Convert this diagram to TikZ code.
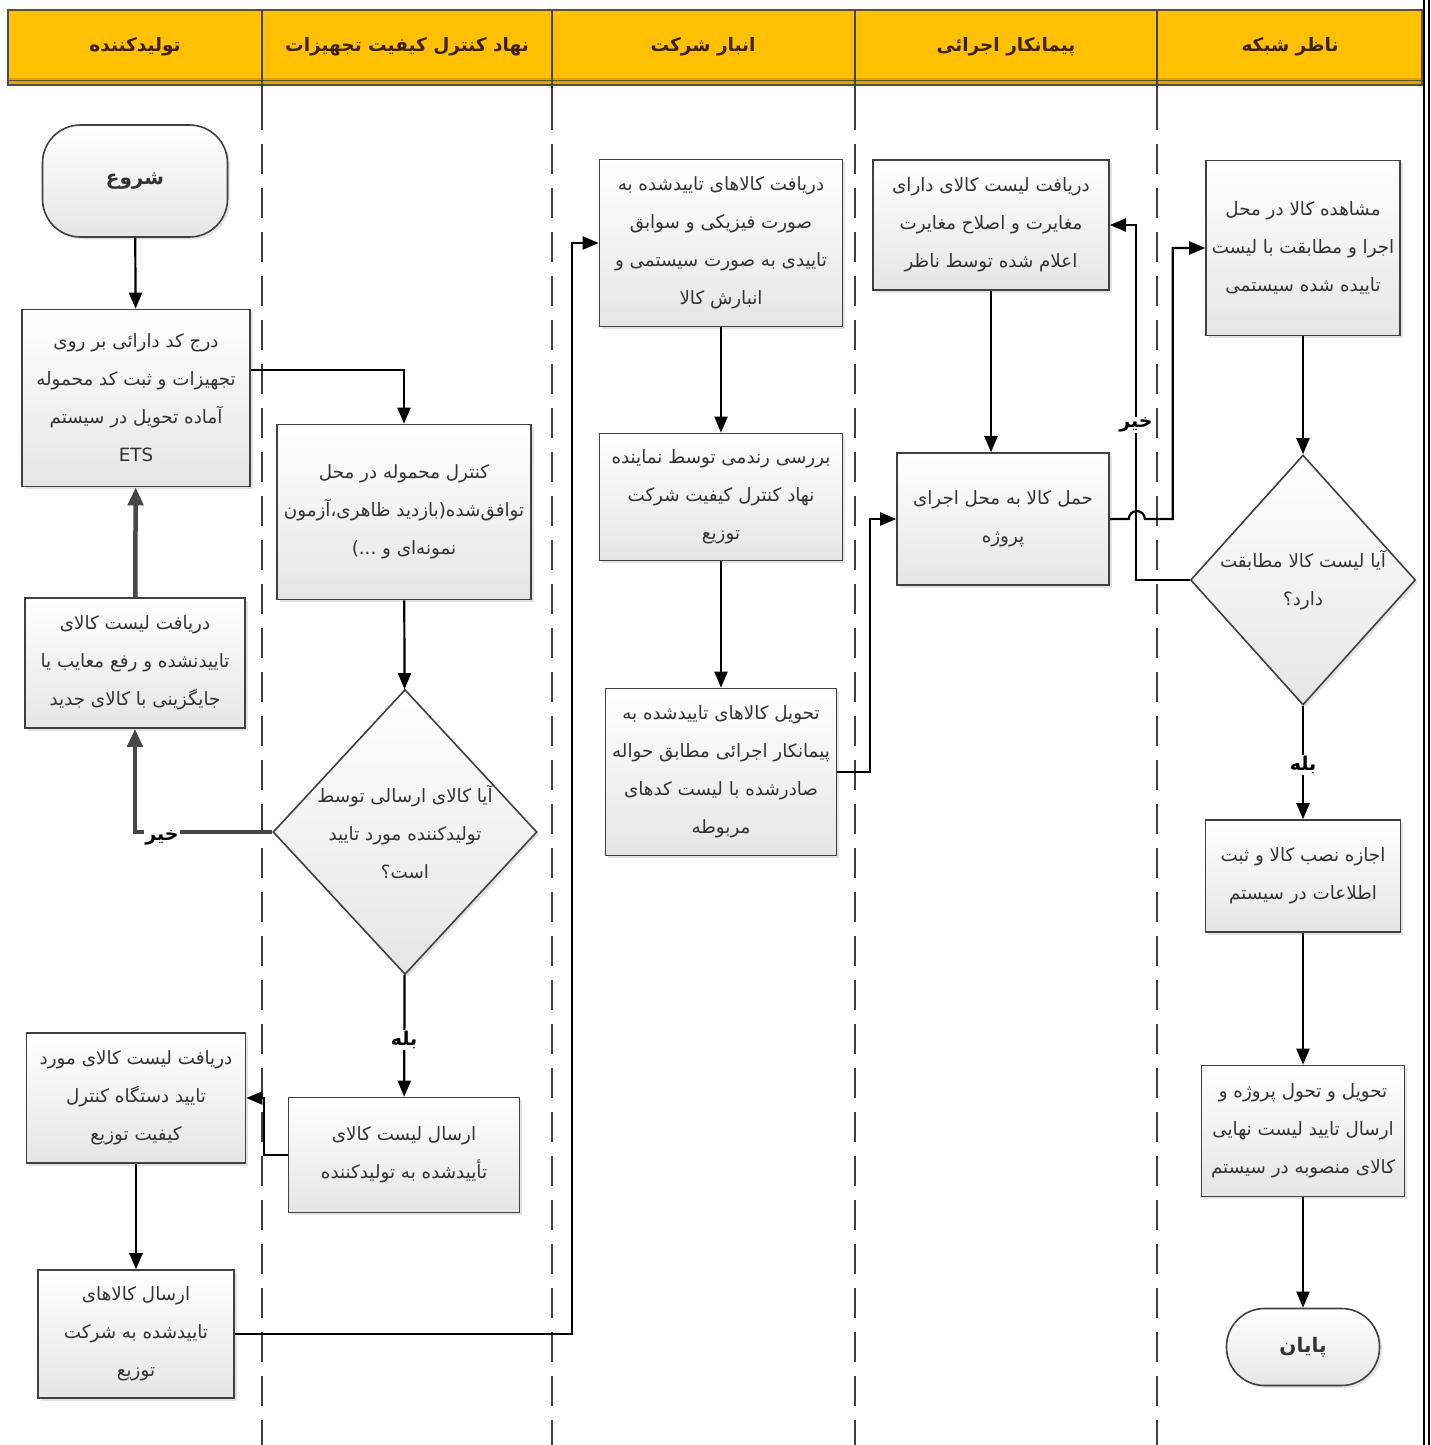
\documentclass[tikz,border=0pt]{standalone}
\usepackage{fontspec}
\usetikzlibrary{arrows.meta,shapes.geometric,shadows}
\newfontfamily\farsi[Script=Arabic]{DejaVu Sans}
\TeXXeTstate=1
\newcommand\rl[1]{\beginR#1\endR}

\definecolor{headfill}{HTML}{FFC000}
\definecolor{headdark}{HTML}{E2A400}
\definecolor{headline}{HTML}{5A5030}
\definecolor{headtext}{HTML}{3B2100}
\definecolor{boxline}{HTML}{404040}
\definecolor{txtgray}{HTML}{333333}
\definecolor{backgray}{HTML}{474747}

\tikzset{
  procbox/.style={draw=boxline, line width=1.6pt, top color=white, bottom color=black!10,
    drop shadow={shadow xshift=2.5pt, shadow yshift=-2.5pt, opacity=0.22},
    align=center, text=txtgray, inner sep=2pt,
    font=\farsi\fontsize{18.3}{38}\selectfont},
  termbox/.style={procbox, rounded corners=38pt, font=\farsi\bfseries\fontsize{20}{24}\selectfont},
  decbox/.style={procbox, diamond, inner sep=-40pt},
  flow/.style={line width=2.2pt, -{Triangle[length=16pt,width=13pt]}},
  backflow/.style={flow, line width=4.5pt, draw=backgray, -{Triangle[length=18pt,width=15pt]}},
  lane/.style={draw=boxline, line width=1.6pt, dash pattern=on 30pt off 14pt},
  lanehead/.style={text=headtext, font=\farsi\bfseries\fontsize{18.5}{22}\selectfont},
  lbl/.style={fill=white, inner sep=1pt, font=\farsi\bfseries\fontsize{19}{22}\selectfont}
}

\begin{document}
\begin{tikzpicture}[x=1pt,y=-1pt]
  \useasboundingbox (0,0) rectangle (1430,1445);
  \fill[white] (0,0) rectangle (1430,1445);

% lane header band
  \fill[headfill] (8,10) rectangle (1422,80);
  \fill[headdark] (8,78) rectangle (1422,85);
  \draw[headline, line width=2.2pt] (8,10) rectangle (1422,85);
  \draw[headline, line width=1pt] (8,80) -- (1422,80);
  \node[lanehead] (hprod) at (135,47) {\rl{تولیدکننده}};
  \node[lanehead] (hqc)   at (407,47) {\rl{نهاد کنترل کیفیت تجهیزات}};
  \node[lanehead] (hwh)   at (703,47) {\rl{انبار شرکت}};
  \node[lanehead] (hcon)  at (1006,47) {\rl{پیمانکار اجرائی}};
  \node[lanehead] (hsup)  at (1290,47) {\rl{ناظر شبکه}};

% lane borders
  \draw[boxline, line width=1.2pt] (262,10) -- (262,100);
  \draw[boxline, line width=1.2pt] (552,10) -- (552,100);
  \draw[boxline, line width=1.2pt] (855,10) -- (855,100);
  \draw[boxline, line width=1.2pt] (1157,10) -- (1157,100);
  \draw[lane] (262,100) -- (262,1445);
  \draw[lane] (552,100) -- (552,1445);
  \draw[lane] (855,100) -- (855,1445);
  \draw[lane] (1157,100) -- (1157,1445);
  \draw[black, line width=2.5pt] (1424,0) -- (1424,1445);
  \draw[black, line width=1.5pt] (1429,0) -- (1429,1445);

% producer lane
  \node[termbox, minimum width=185pt, minimum height=112pt] (start) at (135,181) {\rl{شروع}};
  \node[procbox, minimum width=228pt, minimum height=177pt] (ets) at (136,398)
    {\rl{درج کد دارائی بر روی}\\\rl{تجهیزات و ثبت کد محموله}\\\rl{آماده تحویل در سیستم}\\ETS};
  \node[procbox, minimum width=220pt, minimum height=130pt] (fix) at (135,663)
    {\rl{دریافت لیست کالای}\\\rl{تاییدنشده و رفع معایب یا}\\\rl{جایگزینی با کالای جدید}};
  \node[procbox, minimum width=219pt, minimum height=130pt] (recv) at (136,1098)
    {\rl{دریافت لیست کالای مورد}\\\rl{تایید دستگاه کنترل}\\\rl{کیفیت توزیع}};
  \node[procbox, minimum width=196pt, minimum height=128pt] (send) at (136,1334)
    {\rl{ارسال کالاهای}\\\rl{تاییدشده به شرکت}\\\rl{توزیع}};

% quality control lane
  \node[procbox, minimum width=254pt, minimum height=175pt] (qc) at (404,512)
    {\rl{کنترل محموله در محل}\\\rl{توافق‌شده(بازدید ظاهری،آزمون}\\\rl{نمونه‌ای و ...)}};
  \node[decbox, minimum width=264pt, minimum height=285pt] (qq) at (405,832)
    {\rl{آیا کالای ارسالی توسط}\\\rl{تولیدکننده مورد تایید}\\\rl{است؟}};
  \node[procbox, minimum width=231pt, minimum height=115pt] (qlist) at (404,1155)
    {\rl{ارسال لیست کالای}\\\rl{تأییدشده به تولیدکننده}};

% warehouse lane
  \node[procbox, minimum width=243pt, minimum height=167pt] (wrecv) at (721,243)
    {\rl{دریافت کالاهای تاییدشده به}\\\rl{صورت فیزیکی و سوابق}\\\rl{تاییدی به صورت سیستمی و}\\\rl{انبارش کالا}};
  \node[procbox, minimum width=243pt, minimum height=127pt] (rand) at (721,497)
    {\rl{بررسی رندمی توسط نماینده}\\\rl{نهاد کنترل کیفیت شرکت}\\\rl{توزیع}};
  \node[procbox, minimum width=231pt, minimum height=167pt] (deliv) at (721,772)
    {\rl{تحویل کالاهای تاییدشده به}\\\rl{پیمانکار اجرائی مطابق حواله}\\\rl{صادرشده با لیست کدهای}\\\rl{مربوطه}};

% contractor lane
  \node[procbox, minimum width=236pt, minimum height=130pt] (fixdiff) at (991,225)
    {\rl{دریافت لیست کالای دارای}\\\rl{مغایرت و اصلاح مغایرت}\\\rl{اعلام شده توسط ناظر}};
  \node[procbox, minimum width=212pt, minimum height=132pt] (haul) at (1003,519)
    {\rl{حمل کالا به محل اجرای}\\\rl{پروژه}};

% supervisor lane
  \node[procbox, minimum width=194pt, minimum height=175pt] (obs) at (1303,248)
    {\rl{مشاهده کالا در محل}\\\rl{اجرا و مطابقت با لیست}\\\rl{تاییده شده سیستمی}};
  \node[decbox, minimum width=225pt, minimum height=250pt] (mq) at (1303,580)
    {\rl{آیا لیست کالا مطابقت}\\\rl{دارد؟}};
  \node[procbox, minimum width=195pt, minimum height=112pt] (inst) at (1303,876)
    {\rl{اجازه نصب کالا و ثبت}\\\rl{اطلاعات در سیستم}};
  \node[procbox, minimum width=203pt, minimum height=131pt] (hand) at (1303,1131)
    {\rl{تحویل و تحول پروژه و}\\\rl{ارسال تایید لیست نهایی}\\\rl{کالای منصوبه در سیستم}};
  \node[termbox, minimum width=153pt, minimum height=77pt] (stop) at (1303,1347) {\rl{پایان}};

% connectors
  \draw[flow] (start) -- (ets);
  \draw[flow] ([yshift=28pt]ets.east) -| (qc.north);
  \draw[flow] (qc) -- (qq);
  \draw[backflow] (qq.west) -| (fix.south);
  \node[lbl] (no1) at (162,838) {\rl{خیر}};
  \draw[backflow] (fix) -- (ets);
  \draw[flow] (qq) -- (qlist);
  \node[lbl] (yes1) at (404,1040) {\rl{بله}};
  \draw[flow] (qlist.west) -- ++(-24,0) |- (recv.east);
  \draw[flow] (recv) -- (send);
  \draw[flow] (send.east) -- ++(337,0) |- (wrecv.west);
  \draw[flow] (wrecv) -- (rand);
  \draw[flow] (rand) -- (deliv);
  \draw[flow] (deliv.east) -- ++(33,0) |- (haul.west);
  \draw[flow] (fixdiff.south) -- (fixdiff.south |- haul.north);
  \draw[flow] (mq.west) -- ++(-54,0) |- (fixdiff.east);
  \node[lbl] (no2) at (1136,425) {\rl{خیر}};
  \draw[flow] (haul.east) -- ++(19,0) arc[start angle=180, end angle=360, radius=8] -- ++(28,0) |- (obs.west);
  \draw[flow] (obs) -- (mq);
  \draw[flow] (mq) -- (inst);
  \node[lbl] (yes2) at (1303,765) {\rl{بله}};
  \draw[flow] (inst) -- (hand);
  \draw[flow] (hand) -- (stop);

\end{tikzpicture}
\end{document}
